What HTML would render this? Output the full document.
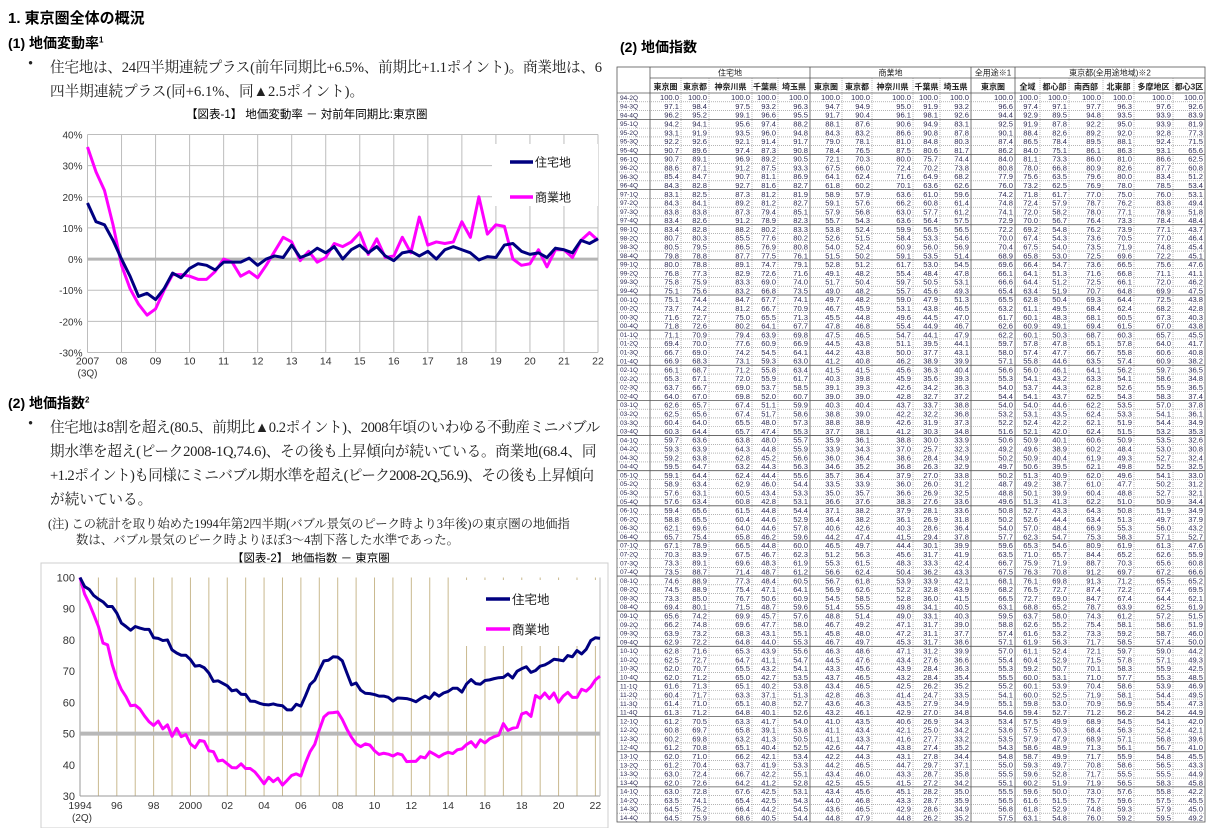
<!DOCTYPE html>
<html lang="ja"><head><meta charset="utf-8">
<style>
body{margin:0;width:1215px;height:828px;background:#fff;overflow:hidden;position:relative;font-family:"Liberation Sans","Noto Sans CJK JP",sans-serif;color:#000}
.t{position:absolute;white-space:nowrap}
.h1{font-weight:bold;font-size:15px}
.h2{font-weight:bold;font-size:14px}
.p{font-family:"Liberation Serif","Noto Serif CJK SC",serif;font-size:14.6px;color:#222}
.cap{font-size:11.5px}
sup{font-size:8px}
</style></head><body>
<div class="t h1" style="left:8px;top:7px">1. 東京圏全体の概況</div>
<div class="t h2" style="left:8px;top:33px">(1) 地価変動率<sup>1</sup></div>
<div class="t p" style="left:28px;top:56px">•</div>
<div class="t p" style="left:50px;top:56px;letter-spacing:-0.25px">住宅地は、24四半期連続プラス(前年同期比+6.5%、前期比+1.1ポイント)。商業地は、6</div>
<div class="t p" style="left:50px;top:80px">四半期連続プラス(同+6.1%、同▲2.5ポイント)。</div>
<div class="t cap" style="left:186px;top:106px">【図表-1】 地価変動率 － 対前年同期比:東京圏</div>

<svg id="c1" style="position:absolute;left:0;top:0" width="610" height="390"></svg>

<div class="t h2" style="left:8px;top:393px">(2) 地価指数<sup>2</sup></div>
<div class="t p" style="left:28px;top:416px">•</div>
<div class="t p" style="left:50px;top:416px;letter-spacing:-0.45px">住宅地は8割を超え(80.5、前期比▲0.2ポイント)、2008年頃のいわゆる不動産ミニバブル</div>
<div class="t p" style="left:50px;top:440px;letter-spacing:-0.25px">期水準を超え(ピーク2008-1Q,74.6)、その後も上昇傾向が続いている。商業地(68.4、同</div>
<div class="t p" style="left:50px;top:464px;letter-spacing:-0.6px">+1.2ポイント)も同様にミニバブル期水準を超え(ピーク2008-2Q,56.9)、その後も上昇傾向</div>
<div class="t p" style="left:50px;top:488px">が続いている。</div>
<div class="t p" style="left:48px;top:514px;font-size:12.4px;letter-spacing:-0.1px">(注) この統計を取り始めた1994年第2四半期(バブル景気のピーク時より3年後)の東京圏の地価指</div>
<div class="t p" style="left:76px;top:530px;font-size:12.4px">数は、バブル景気のピーク時よりほぼ3～4割下落した水準であった。</div>
<div class="t cap" style="left:232px;top:550px">【図表-2】 地価指数 － 東京圏</div>

<svg id="c2" style="position:absolute;left:0;top:560px" width="612" height="268"></svg>

<div class="t h2" style="left:620px;top:37px">(2) 地価指数</div>
<svg id="tb" style="position:absolute;left:0;top:0" width="1215" height="828"></svg>

<script>
// ---- Chart 1 data (YoY %, 2007Q3 .. 2022Q3)
const c1XLabels=["2007","08","09","10","11","12","13","14","15","16","17","18","19","20","21","22"];
const c1YTicks=[40,30,20,10,0,-10,-20,-30];
const c1Res=[18,12,11,6,0,-5.5,-12,-11,-13,-9.5,-4.5,-6,-3,-1.5,-2,-3.5,-1,-1,-1,0.3,-2,0,1,0.5,4.5,0.5,1.5,3.5,2,4,0,3,4.5,2,4,1,-0.5,2,2.5,1,2.5,0,3,4,3,2,-0.3,0.8,0.5,4.5,5,2.5,1.5,2,0.5,3.5,3,2,6,5,6.5];
const c1Com=[36,28,22,11,-2,-9.5,-14.5,-18,-16,-10,-5,-5,-5.5,-6.5,-6.5,-4,0,-1,-5.5,-4,-6,-2,2.5,7,5.5,-0.5,2.5,-1,0.5,5,4,5.5,8.5,1.5,6.5,0.5,1,7,2,13.5,4.5,5.5,5,5.5,12,7,20,8,11,10.5,0,-2,-1.5,3,-2.5,3,3,0.5,6,8.5,6];
// ---- Chart 2 data (index, 1994Q2 = 100 .. 2022Q3)
const c2XLabels=["1994","96","98","2000","02","04","06","08","10","12","14","16","18","20","22"];
const c2YTicks=[100,90,80,70,60,50,40,30];
const c2Res=[100,97.1,96.2,94.2,93.1,92.2,90.7,90.7,88.6,85.4,84.3,83.1,84.3,83.8,83.4,83.4,80.7,80.5,79.8,80.0,76.8,75.8,75.1,75.1,73.7,71.6,71.8,71.1,69.4,66.7,66.9,66.1,65.3,63.7,64.0,62.6,62.5,60.4,60.3,59.7,59.3,59.2,59.5,59.1,58.9,57.6,57.6,59.4,58.8,62.1,65.7,67.1,70.3,73.3,73.5,74.6,74.5,73.3,69.4,65.6,66.2,63.9,62.9,62.8,62.5,62.0,62.0,61.6,60.4,61.4,61.3,61.2,60.8,60.2,61.2,62.0,61.2,63.0,62.0,63.0,63.5,64.5,64.5,63.3,65.9,67.3,66.0,65.8,67.0,67.2,67.6,67.9,68.0,69.1,67.8,70.0,70.8,71.4,69.6,70.2,71.6,72.0,72.8,73.8,73.6,73.3,75.0,74.6,76.6,75.5,77.0,79.8,80.7,80.5];
const c2Com=[100,94.7,91.7,88.1,84.3,79.0,78.4,72.1,67.5,64.1,61.8,58.9,59.1,57.9,55.7,53.8,52.6,54.0,51.5,52.8,49.1,51.7,49.0,49.7,46.7,45.5,47.8,47.5,44.5,44.2,41.2,41.5,40.3,39.1,39.0,40.3,38.8,38.8,37.7,35.9,33.9,36.0,34.6,35.7,33.5,35.0,36.6,37.1,36.4,40.6,44.2,46.5,51.2,55.3,56.6,56.7,56.9,54.5,51.4,48.8,46.7,45.8,46.7,46.3,44.5,43.3,43.7,43.4,42.8,43.6,43.2,41.0,41.1,41.1,42.6,42.2,44.2,43.4,42.5,43.4,44.0,43.6,44.8,45.1,46.5,47.4,45.7,48.0,47.0,48.3,49.0,49.5,53.2,51.0,51.7,52.0,56.3,56.8,55.5,62.2,61.3,63.0,61.2,63.0,60.0,62.0,63.2,61.6,61.6,64.2,63.6,65.0,67.2,68.4];

const NS='http://www.w3.org/2000/svg';
function mk(svg,tag,attrs,text){const e=document.createElementNS(NS,tag);for(const k in attrs)e.setAttribute(k,attrs[k]);if(text!==undefined)e.textContent=text;svg.appendChild(e);return e;}

// ---- Chart 1
(function(){
const s=document.getElementById('c1');
const L=87.5,R=598,yTop=134.5,yBot=352.5,vMax=40,vMin=-30;
const y=v=>yTop+(vMax-v)/(vMax-vMin)*(yBot-yTop);
const n=c1Res.length;const x=i=>L+i*(R-L)/(n-1);
c1YTicks.forEach(t=>{
 const g=mk(s,'line',{x1:L,x2:R,y1:y(t),y2:y(t),stroke:'#bdbdbd','stroke-width':1});
 
 
 const lb=mk(s,'text',{x:L-5,y:y(t)+4,'text-anchor':'end','font-size':10,fill:'#333'},t+'%');
 
 
});
c1XLabels.forEach((lab,k)=>{
 const xx=x(k*4);
 const g=mk(s,'line',{x1:xx,x2:xx,y1:yTop,y2:yBot,stroke:'#bdbdbd','stroke-width':1});
 
 
 const lb=mk(s,'text',{x:xx,y:yBot+12,'text-anchor':'middle','font-size':10.5,fill:'#333'},lab);
 
 
});
const sub=mk(s,'text',{x:L,y:yBot+24,'text-anchor':'middle','font-size':10,fill:'#333'},'(3Q)');


const z=mk(s,'line',{x1:L,x2:R,y1:y(0),y2:y(0),stroke:'#b5b5b5','stroke-width':3});


const leg=mk(s,'rect',{x:492,y:144,width:106,height:62,fill:'#fff'});


[[c1Com,'#ff00ff','series-commercial'],[c1Res,'#000080','series-residential']].forEach(([d,c,nm])=>{
 const p=mk(s,'polyline',{points:d.map((v,i)=>x(i)+','+y(v)).join(' '),fill:'none',stroke:c,'stroke-width':3,'stroke-linejoin':'round'});
 
 
});
[['住宅地','#000080',162],['商業地','#ff00ff',197]].forEach(([t,c,yy])=>{
 const l=mk(s,'line',{x1:510,x2:533,y1:yy,y2:yy,stroke:c,'stroke-width':3.5});
 
 
 const tx=mk(s,'text',{x:535,y:yy+4.5,'font-size':12,fill:'#222'},t);
 
 
});
})();

// ---- Chart 2
(function(){
const s=document.getElementById('c2');
const L=80,R=600,yTop=17.5,yBot=236,vMax=100,vMin=30;
const y=v=>yTop+(vMax-v)/(vMax-vMin)*(yBot-yTop);
const n=c2Res.length;const x=i=>L+i*(R-L)/(n-1);
const fr=mk(s,'rect',{x:41,y:3,width:567,height:265,fill:'none',stroke:'#cfcfcf'});


for(let k=0;k*4<n+2;k++){
 const xx=x(k*4); if(xx>R+1)break;
 const g=mk(s,'line',{x1:xx,x2:xx,y1:yTop,y2:yBot,stroke:'#c9b98f','stroke-width':1});
 
 
}
c2XLabels.forEach((lab,k)=>{
 const lb=mk(s,'text',{x:x(k*8),y:yBot+13,'text-anchor':'middle','font-size':10.5,fill:'#333'},lab);
 
 
});
const sub=mk(s,'text',{x:L+2,y:yBot+25,'text-anchor':'middle','font-size':10,fill:'#333'},'(2Q)');


mk(s,'line',{x1:L,x2:L,y1:yTop,y2:yBot,stroke:'#999'});
mk(s,'line',{x1:L,x2:R,y1:yBot,y2:yBot,stroke:'#999'});
mk(s,'line',{x1:R,x2:R,y1:yTop,y2:yBot,stroke:'#bbb'});
c2YTicks.forEach(t=>{
 const lb=mk(s,'text',{x:L-5,y:y(t)+4,'text-anchor':'end','font-size':11,fill:'#333'},t);
 
 
});
const ref=mk(s,'line',{x1:L,x2:R,y1:y(50),y2:y(50),stroke:'#b8b8b8','stroke-width':4});


const leg=mk(s,'rect',{x:456,y:20,width:143,height:66,fill:'#fff'});


[[c2Com,'#ff00ff','series-commercial'],[c2Res,'#000080','series-residential']].forEach(([d,c,nm])=>{
 const p=mk(s,'polyline',{points:d.map((v,i)=>x(i)+','+y(v)).join(' '),fill:'none',stroke:c,'stroke-width':3,'stroke-linejoin':'round'});
 
 
});
[['住宅地','#000080',39],['商業地','#ff00ff',69]].forEach(([t,c,yy])=>{
 const l=mk(s,'line',{x1:486,x2:510,y1:yy,y2:yy,stroke:c,'stroke-width':3.5});
 
 
 const tx=mk(s,'text',{x:512,y:yy+5,'font-size':12.5,fill:'#222'},t);
 
 
});
})();

// ---- Table
const tblRows=`94-2Q 100.0 100.0 100.0 100.0 100.0 100.0 100.0 100.0 100.0 100.0 100.0 100.0 100.0 100.0 100.0 100.0 100.0
94-3Q 97.1 98.4 97.5 93.2 96.3 94.7 94.9 95.0 91.9 93.2 96.6 97.4 97.1 97.7 96.3 97.6 92.6
94-4Q 96.2 95.2 99.1 96.6 95.5 91.7 90.4 96.1 98.1 92.6 94.4 92.9 89.5 94.8 93.5 93.9 83.9
95-1Q 94.2 94.1 95.6 97.4 88.2 88.1 87.6 90.6 94.9 83.1 92.5 91.9 87.8 92.2 95.0 93.9 81.9
95-2Q 93.1 91.9 93.5 96.0 94.8 84.3 83.2 86.6 90.8 87.8 90.1 88.4 82.6 89.2 92.0 92.8 77.3
95-3Q 92.2 92.6 92.1 91.4 91.7 79.0 78.1 81.0 84.8 80.3 87.4 86.5 78.4 89.5 88.1 92.4 71.5
95-4Q 90.7 89.6 97.4 87.3 90.8 78.4 76.5 87.5 80.6 81.7 86.2 84.0 75.1 86.1 86.3 93.1 65.6
96-1Q 90.7 89.1 96.9 89.2 90.5 72.1 70.3 80.0 75.7 74.4 84.0 81.1 73.3 86.0 81.0 86.6 62.5
96-2Q 88.6 87.1 91.2 87.5 93.3 67.5 66.0 72.4 70.2 73.8 80.8 78.0 66.8 80.9 82.6 87.7 60.8
96-3Q 85.4 84.7 90.7 81.1 86.9 64.1 62.4 71.6 64.9 68.2 77.9 75.6 63.5 79.6 80.0 83.4 51.2
96-4Q 84.3 82.8 92.7 81.6 82.7 61.8 60.2 70.1 63.6 62.6 76.0 73.2 62.5 76.9 78.0 78.5 53.4
97-1Q 83.1 82.5 87.3 81.2 81.9 58.9 57.9 63.6 61.0 59.6 74.2 71.8 61.7 77.0 75.0 76.0 53.1
97-2Q 84.3 84.1 89.2 81.2 82.7 59.1 57.6 66.2 60.8 61.4 74.8 72.4 57.9 78.7 76.2 83.8 49.4
97-3Q 83.8 83.8 87.3 79.4 85.1 57.9 56.8 63.0 57.7 61.2 74.1 72.0 58.2 78.0 77.1 78.9 51.8
97-4Q 83.4 82.6 91.2 78.9 82.3 55.7 54.3 63.6 56.4 57.5 72.9 70.0 56.7 76.4 73.3 78.4 48.4
98-1Q 83.4 82.8 88.2 80.2 83.3 53.8 52.4 59.9 56.5 56.5 72.2 69.2 54.8 76.2 73.9 77.1 43.7
98-2Q 80.7 80.3 85.5 77.6 80.2 52.6 51.5 58.4 53.3 54.6 70.0 67.4 54.3 73.6 70.5 77.0 46.4
98-3Q 80.5 79.5 86.5 76.9 80.8 54.0 52.4 60.9 56.0 56.9 70.4 67.5 54.0 73.5 71.9 74.8 45.4
98-4Q 79.8 78.8 87.7 77.5 76.1 51.5 50.2 59.1 53.5 51.4 68.9 65.8 53.0 72.5 69.6 72.2 45.1
99-1Q 80.0 78.8 89.1 74.7 79.1 52.8 51.2 61.7 53.0 54.5 69.6 66.4 54.7 73.6 66.5 75.6 47.6
99-2Q 76.8 77.3 82.9 72.6 71.6 49.1 48.2 55.4 48.4 47.8 66.1 64.1 51.3 71.6 66.8 71.1 41.1
99-3Q 75.8 75.9 83.3 69.0 74.0 51.7 50.4 59.7 50.5 53.1 66.6 64.4 51.2 72.5 66.1 72.0 46.2
99-4Q 75.1 75.6 83.2 66.8 73.5 49.0 48.2 55.7 45.6 49.3 65.4 63.4 51.9 70.7 64.8 69.9 47.5
00-1Q 75.1 74.4 84.7 67.7 74.1 49.7 48.2 59.0 47.9 51.3 65.5 62.8 50.4 69.3 64.4 72.5 43.8
00-2Q 73.7 74.2 81.2 66.7 70.9 46.7 45.9 53.1 43.8 46.5 63.2 61.1 49.5 68.4 62.4 68.2 42.8
00-3Q 71.6 72.7 75.0 65.5 71.3 45.5 44.8 49.6 44.5 47.0 61.7 60.1 48.3 68.1 60.5 67.3 40.3
00-4Q 71.8 72.6 80.2 64.1 67.7 47.8 46.8 55.4 44.9 46.7 62.6 60.9 49.1 69.4 61.5 67.0 43.8
01-1Q 71.1 70.9 79.4 63.9 69.8 47.5 46.5 54.7 44.1 47.9 62.2 60.1 50.3 68.7 60.3 65.7 45.5
01-2Q 69.4 70.0 77.6 60.9 66.9 44.5 43.8 51.1 39.5 44.1 59.7 57.8 47.8 65.1 57.8 64.0 41.7
01-3Q 66.7 69.0 74.2 54.5 64.1 44.2 43.8 50.0 37.7 43.1 58.0 57.4 47.7 66.7 55.8 60.6 40.8
01-4Q 66.9 68.3 73.1 59.3 63.0 41.2 40.8 46.2 38.9 39.9 57.1 55.8 44.6 63.5 57.4 60.9 38.2
02-1Q 66.1 68.7 71.2 55.8 63.4 41.5 41.5 45.6 36.3 40.4 56.6 56.0 46.1 64.1 56.2 59.7 36.5
02-2Q 65.3 67.1 72.0 55.9 61.7 40.3 39.8 45.9 35.6 39.3 55.3 54.1 43.2 63.3 54.1 58.6 34.8
02-3Q 63.7 66.7 69.0 53.7 58.5 39.1 39.3 42.6 34.2 36.3 54.0 53.7 44.3 62.8 52.6 55.9 36.5
02-4Q 64.0 67.0 69.8 52.0 60.7 39.0 39.0 42.8 32.7 37.2 54.4 54.1 43.7 62.5 54.3 58.3 37.4
03-1Q 62.6 65.7 67.4 51.1 59.9 40.3 40.4 43.7 33.7 38.8 54.0 54.0 44.6 62.2 53.5 57.0 37.8
03-2Q 62.5 65.6 67.4 51.7 58.6 38.8 39.0 42.2 32.2 36.8 53.2 53.1 43.5 62.4 53.3 54.1 36.1
03-3Q 60.4 64.0 65.5 48.0 57.3 38.8 38.9 42.6 31.9 37.3 52.2 52.4 42.2 62.1 51.9 54.4 34.9
03-4Q 60.3 64.4 65.7 47.4 55.3 37.7 38.1 41.2 30.3 34.8 51.6 52.1 42.0 62.4 51.5 53.2 35.3
04-1Q 59.7 63.6 63.8 48.0 55.7 35.9 36.1 38.8 30.0 33.9 50.6 50.9 40.1 60.6 50.9 53.5 32.6
04-2Q 59.3 63.9 64.3 44.8 55.9 33.9 34.3 37.0 25.7 32.3 49.2 49.6 38.9 60.2 48.4 53.0 30.8
04-3Q 59.2 63.8 62.8 45.2 56.6 36.0 36.4 38.6 28.4 34.9 50.2 50.9 40.4 61.9 49.3 52.7 32.4
04-4Q 59.5 64.7 63.2 44.3 56.3 34.6 35.2 36.8 26.3 32.9 49.7 50.6 39.5 62.1 49.8 52.5 32.5
05-1Q 59.1 64.4 62.4 44.4 55.6 35.7 36.4 37.9 27.0 33.8 50.2 51.3 40.9 62.0 49.6 54.1 33.0
05-2Q 58.9 63.4 62.9 46.0 54.4 33.5 33.9 36.0 26.0 31.2 48.7 49.2 38.7 61.0 47.7 50.2 31.2
05-3Q 57.6 63.1 60.5 43.4 53.3 35.0 35.7 36.6 26.9 32.5 48.8 50.1 39.9 60.4 48.8 52.7 32.1
05-4Q 57.6 63.4 60.8 42.8 53.1 36.6 37.6 38.3 27.6 33.6 49.6 51.3 41.3 62.2 51.0 50.9 34.4
06-1Q 59.4 65.6 61.5 44.8 54.4 37.1 38.2 37.9 28.1 33.6 50.8 52.7 43.3 64.3 50.8 51.9 34.9
06-2Q 58.8 65.5 60.4 44.6 52.9 36.4 38.2 36.1 26.9 31.8 50.2 52.6 44.4 63.4 51.3 49.7 37.9
06-3Q 62.1 69.6 64.0 44.6 57.8 40.6 42.6 40.3 28.6 36.4 54.0 57.0 48.4 66.9 55.3 56.0 43.2
06-4Q 65.7 75.4 65.8 46.2 59.6 44.2 47.4 41.5 29.4 37.8 57.7 62.3 54.7 75.3 58.3 57.1 52.7
07-1Q 67.1 78.9 66.5 44.8 60.0 46.5 49.7 44.4 30.1 39.9 59.6 65.3 54.6 80.9 61.9 61.3 47.6
07-2Q 70.3 83.9 67.5 46.7 62.3 51.2 56.3 45.6 31.7 41.9 63.5 71.0 65.7 84.4 65.2 62.6 55.9
07-3Q 73.3 89.1 69.6 48.3 61.9 55.3 61.5 48.3 33.3 42.4 66.7 75.9 71.9 88.7 70.3 65.6 60.8
07-4Q 73.5 88.7 71.4 48.7 61.2 56.6 62.4 50.4 36.2 43.3 67.5 76.3 70.8 91.2 69.7 67.2 66.6
08-1Q 74.6 88.9 77.3 48.4 60.5 56.7 61.8 53.9 33.9 42.1 68.1 76.1 69.8 91.3 71.2 65.5 65.2
08-2Q 74.5 88.9 75.4 47.1 64.1 56.9 62.6 52.2 32.8 43.9 68.2 76.5 72.7 87.4 72.2 67.4 69.5
08-3Q 73.3 85.0 76.7 50.6 60.9 54.5 58.5 52.8 36.0 41.5 66.5 72.7 69.0 84.7 67.4 64.4 62.1
08-4Q 69.4 80.1 71.5 48.7 59.6 51.4 55.5 49.8 34.1 40.5 63.1 68.8 65.2 78.7 63.9 62.5 61.9
09-1Q 65.6 74.2 69.9 45.7 57.6 48.8 51.4 49.0 33.1 40.3 59.5 63.7 58.0 74.3 61.2 57.2 51.5
09-2Q 66.2 74.8 69.6 47.7 58.0 46.7 49.2 47.1 31.7 39.0 58.8 62.6 55.2 75.4 58.1 58.6 51.9
09-3Q 63.9 73.2 68.3 43.1 55.1 45.8 48.0 47.2 31.1 37.7 57.4 61.6 53.2 73.3 59.2 58.7 46.0
09-4Q 62.9 72.2 64.8 44.0 55.3 46.7 49.7 45.3 31.7 38.6 57.1 61.9 56.3 71.7 58.5 57.4 50.0
10-1Q 62.8 71.6 65.3 43.9 55.6 46.3 48.6 47.1 31.2 39.9 57.0 61.1 52.4 72.1 59.7 59.0 44.2
10-2Q 62.5 72.7 64.7 41.1 54.7 44.5 47.6 43.4 27.6 36.6 55.4 60.4 52.9 71.5 57.8 57.1 49.3
10-3Q 62.0 70.7 65.5 43.2 54.1 43.3 45.6 43.9 28.4 36.3 55.3 59.2 50.7 70.1 58.3 55.9 42.5
10-4Q 62.0 71.2 65.0 42.7 53.5 43.7 46.5 43.2 28.4 35.4 55.5 60.0 53.1 71.0 57.7 55.3 48.5
11-1Q 61.6 71.3 65.1 40.2 53.8 43.4 46.5 42.5 26.2 35.2 55.2 60.1 53.9 70.4 58.6 53.9 46.9
11-2Q 60.4 71.7 63.3 37.1 51.3 42.8 46.3 41.4 24.7 33.5 54.1 60.0 52.5 71.9 58.1 54.4 49.5
11-3Q 61.4 71.0 65.1 40.8 52.7 43.6 46.3 43.5 27.9 34.9 55.1 59.8 53.0 70.9 56.9 55.4 47.3
11-4Q 61.3 71.2 64.8 40.1 52.6 43.2 46.1 42.9 27.0 34.8 54.6 59.4 52.7 71.2 56.2 54.2 44.9
12-1Q 61.2 70.5 63.3 41.7 54.0 41.0 43.5 40.6 26.9 34.3 53.4 57.5 49.9 68.9 54.5 54.1 42.0
12-2Q 60.8 69.7 65.8 39.1 53.8 41.1 43.4 42.1 25.0 34.2 53.6 57.5 50.3 68.4 56.3 52.4 42.1
12-3Q 60.2 69.8 63.2 41.3 50.5 41.1 43.3 41.6 27.7 33.2 53.5 57.9 47.9 68.9 57.1 56.8 39.6
12-4Q 61.2 70.8 65.1 40.4 52.5 42.6 44.7 43.8 27.4 35.2 54.3 58.6 48.9 71.3 56.1 56.7 41.0
13-1Q 62.0 71.0 66.2 42.1 53.4 42.2 44.3 43.1 27.8 34.4 54.8 58.7 49.9 71.7 55.9 54.8 45.5
13-2Q 61.2 70.4 63.7 41.9 53.3 44.2 46.5 44.7 29.7 37.1 55.0 59.3 49.7 70.8 58.6 56.5 43.3
13-3Q 63.0 72.4 66.7 42.2 55.1 43.4 46.0 43.3 28.7 35.8 55.5 59.6 52.8 71.7 55.5 55.5 44.9
13-4Q 62.0 72.6 64.2 41.2 52.8 42.5 45.5 41.5 27.2 34.2 55.1 60.2 51.9 71.9 56.5 58.3 45.8
14-1Q 63.0 72.8 67.6 42.5 53.1 43.4 45.6 45.1 28.2 35.0 55.5 59.6 50.0 73.0 57.6 55.8 42.2
14-2Q 63.5 74.1 65.4 42.5 54.3 44.0 46.8 43.3 28.7 35.9 56.5 61.6 51.5 75.7 59.6 57.5 45.5
14-3Q 64.5 75.2 66.4 44.2 54.5 43.6 46.5 42.9 28.6 34.9 56.8 61.8 52.9 74.8 59.3 57.9 45.0
14-4Q 64.5 75.9 68.6 40.5 54.4 44.8 47.9 44.8 26.2 35.2 57.5 63.1 54.8 76.0 59.2 59.5 49.2`.split('\n').map(r=>r.trim().split(' '));
(function(){
const s=document.getElementById('tb');
const X=[617,650,681,709,752,778,810,842,872,913,940,971,1015,1040,1069,1103,1134,1173,1205];
const solidAt=[1,6,11,12];
const yH0=67,yH1=78,yD=93,rh=(822-93)/tblRows.length,yEnd=yD+rh*tblRows.length;
const col='#2e2b55';
const grp=[['住宅地',1,6],['商業地',6,11],['全用途※1',11,12],['東京都(全用途地域)※2',12,18]];
grp.forEach(([t,a,b])=>{const e=mk(s,'text',{x:(X[a]+X[b])/2,y:yH1-2.5,'text-anchor':'middle','font-size':8,fill:'#222'},t);
 
 });
const sh=['東京圏','東京都','神奈川県','千葉県','埼玉県','東京圏','東京都','神奈川県','千葉県','埼玉県','東京圏','全域','都心部','南西部','北東部','多摩地区','都心3区'];
sh.forEach((t,i)=>{const e=mk(s,'text',{x:(X[i+1]+X[i+2])/2,y:yD-3.5,'text-anchor':'middle','font-size':8,'font-weight':'bold',fill:'#222'},t);
 
 });
mk(s,'rect',{x:X[0],y:yH0,width:X[18]-X[0],height:yEnd-yH0,fill:'none',stroke:'#555','stroke-width':0.8});
mk(s,'line',{x1:X[1],x2:X[18],y1:yH1,y2:yH1,stroke:'#555','stroke-width':0.7});
mk(s,'line',{x1:X[0],x2:X[18],y1:yD,y2:yD,stroke:'#555','stroke-width':0.8});
for(let c=1;c<18;c++){
 const solid=solidAt.includes(c);
 mk(s,'line',{x1:X[c],x2:X[c],y1:solid?yH0:yH1,y2:yEnd,stroke:solid?'#555':'#888','stroke-width':solid?0.8:0.6,'stroke-dasharray':solid?'':'1,1'});
}
tblRows.forEach((r,i)=>{
 const yy=yD+i*rh;
 if(i>0){const q1=r[0].endsWith('1Q');
  mk(s,'line',{x1:X[0],x2:X[18],y1:yy,y2:yy,stroke:q1?'#555':'#888','stroke-width':q1?0.8:0.6,'stroke-dasharray':q1?'':'1,1'});}
 const g=mk(s,'g',{});
 
 
 mk(g,'text',{x:X[0]+3,y:yy+rh-2,'font-size':6.5,fill:col},r[0]);
 for(let c=1;c<r.length;c++){
  mk(g,'text',{x:X[c+1]-2,y:yy+rh-1.6,'text-anchor':'end','font-size':7.6,fill:col},r[c]);
 }
});
})();
</script>
</body></html>
